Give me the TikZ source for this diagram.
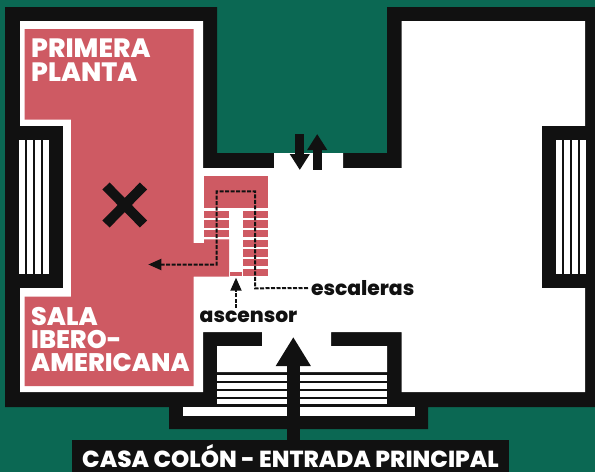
\documentclass[tikz,border=0pt]{standalone}
\usepackage{fontspec}
\setmainfont{Poppins}[BoldFont=* ExtraBold]
\usetikzlibrary{arrows.meta}
\definecolor{patio}{HTML}{0B6853}
\definecolor{wall}{HTML}{111111}
\definecolor{sala}{HTML}{CE5A63}
\def\outerwall{(5,7) -- (217,7) -- (217,153) -- (387,153) -- (387,7) -- (595,7) -- (595,407) -- (428,407) -- (428,429) -- (169,429) -- (169,407) -- (5,407) -- cycle}
\def\innerfloor{(20,21) -- (203,21) -- (203,168) -- (274,168) -- (274,153) -- (343,153) -- (343,168) -- (401.7,168) -- (401.7,21) -- (585,21) -- (585,392) -- (401.7,392) -- (401.7,332) -- (331,332) -- (331,346) -- (387,346) -- (387,372) -- (217,372) -- (217,346) -- (262,346) -- (262,332) -- (203,332) -- (203,392) -- (20,392) -- cycle}
\def\salaroom{(24.7,29) -- (193.7,29) -- (193.7,243) -- (204,243) -- (204,239.3) -- (229,239.3) -- (229,276.7) -- (193.7,276.7) -- (193.7,386) -- (24.7,386) -- (24.7,296.7) -- (71,296.7) -- (71,119.5) -- (24.7,119.5) -- cycle}
\tikzset{
    roomlabel/.style={text=white, align=left, anchor=north west, inner sep=0pt},
    pointer/.style={text=wall, font=\bfseries\fontsize{20.3}{20}\selectfont, inner sep=0pt, outer sep=3pt},
    route/.style={draw=wall, line width=2pt, dash pattern=on 4pt off 1.5pt, -{Triangle[length=13pt,width=11pt]}},
    flow/.style={draw=wall, line width=8.7pt, -{Triangle[length=16pt,width=19pt]}},
    entry/.style={draw=wall, line width=13.3pt, -{Triangle[length=29pt,width=33pt]}}}

\begin{document}
\begin{tikzpicture}[x=1pt,y=-1pt]
    \useasboundingbox (0,0) rectangle (595,472);
    \fill[patio] (0,0) rectangle (595,472);
    \fill[wall] \outerwall;
    \fill[white] \innerfloor;
    % windows
    \fill[wall] (5,126) rectangle (63,288);
    \fill[wall] (541.7,126) rectangle (595,288);
    \foreach \x in {19,27,35,43}
        \fill[white] (\x,140) rectangle ++(5.5,133.7);
    \foreach \x in {556.3,564.3,572.3,580.3}
        \fill[white] (\x,140) rectangle ++(5.5,133.7);
    % entrance steps
    \foreach \y in {375,383,391,398.7}
        \fill[white] (217,\y) rectangle (387,\y+5.5);
    \fill[white] (183,407) rectangle (414.5,415.7);
    % red room and stairs
    \fill[sala] \salaroom;
    \fill[sala] (204,176) rectangle (268,208.3);
    \foreach \y in {210.7,220.3,230}
        \fill[sala] (204,\y) rectangle (229,\y+7.4);
    \foreach \y in {210.7,220.3,230,239.6,249.3,259,268.7}
        \fill[sala] (242.7,\y) rectangle (268,\y+7.4);
    \fill[sala] (230,272.3) rectangle (242,276);
    % cross
    \draw[wall, line width=10pt] (106,186) -- (143.5,224);
    \draw[wall, line width=10pt] (143.5,186) -- (106,224);
    % labels
    \node[roomlabel, font=\bfseries\fontsize{26.5}{23.5}\selectfont] (primera) at (31,39) {PRIMERA\\[0pt]PLANTA};
    \node[roomlabel, font=\bfseries\fontsize{25.4}{22.7}\selectfont] (salalabel) at (31,307.5) {SALA\\[0pt]IBERO-\\[0pt]AMERICANA};
    \node[pointer, anchor=west] (escaleras) at (308,288) {escaleras};
    \node[pointer, anchor=center] (ascensor) at (248.5,317) {ascensor};
    \node[fill=wall, text=white, font=\bfseries\fontsize{23.2}{24}\selectfont, minimum width=437pt, minimum height=32pt, inner sep=0pt] (entrada) at (290.5,456) {CASA COLÓN - ENTRADA PRINCIPAL};
    % routes
    \coordinate (salaend) at (148.3,264.5);
    \coordinate (liftend) at (236,277.7);
    \draw[route] (escaleras.west) -- (255,288.3) -- (255,191.3) -- (216.7,191.3) -- (216.7,264.5) -- (salaend);
    \draw[route] (ascensor.north -| liftend) -- (liftend);
    % doors
    \coordinate (downstart) at (299.8,134);
    \coordinate (downend) at (299.8,170);
    \coordinate (upstart) at (317.2,169.5);
    \coordinate (upend) at (317.2,134);
    \draw[flow] (downstart) -- (downend);
    \draw[flow] (upstart) -- (upend);
    \coordinate (entryend) at (293.3,337);
    \draw[entry] (entrada.north -| entryend) -- (entryend);
\end{tikzpicture}
\end{document}
